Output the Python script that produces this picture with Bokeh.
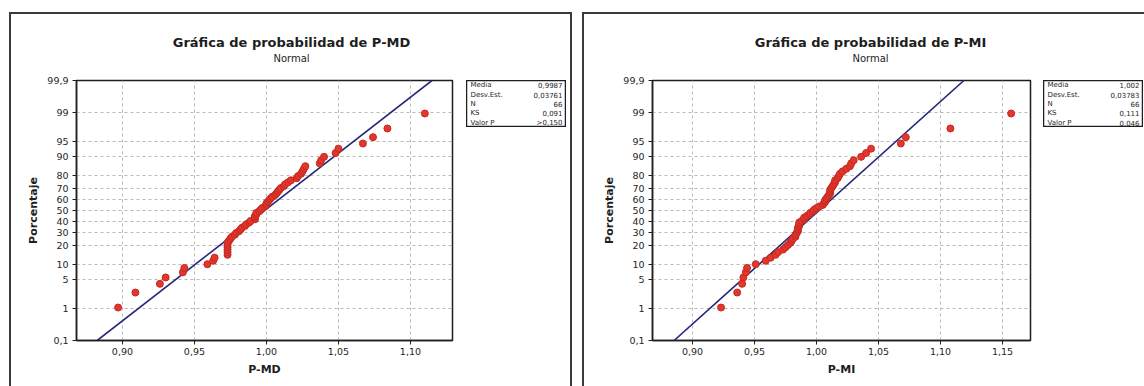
from statistics import NormalDist
from bokeh.plotting import figure
from bokeh.models import Range1d, FixedTicker, Spacer
from bokeh.layouts import row, column
from bokeh.core.properties import value
from bokeh.embed import file_html
from bokeh.resources import INLINE

# ---------------- data ----------------
md_values = [0.897, 0.909, 0.926, 0.930, 0.942, 0.943, 0.959, 0.963, 0.964, 0.973,
             0.973, 0.973, 0.973, 0.973, 0.973, 0.974, 0.975, 0.976, 0.978, 0.979,
             0.981, 0.982, 0.983, 0.985, 0.986, 0.988, 0.989, 0.992, 0.992, 0.992,
             0.993, 0.993, 0.995, 0.996, 0.997, 0.999, 1.000, 1.000, 1.001, 1.002,
             1.003, 1.004, 1.006, 1.007, 1.008, 1.009, 1.010, 1.012, 1.013, 1.015,
             1.017, 1.021, 1.022, 1.024, 1.025, 1.026, 1.027, 1.037, 1.038, 1.040,
             1.048, 1.050, 1.067, 1.074, 1.084, 1.110]
mi_values = [0.923, 0.936, 0.940, 0.941, 0.943, 0.944, 0.951, 0.959, 0.963, 0.967,
             0.969, 0.973, 0.975, 0.977, 0.979, 0.980, 0.981, 0.983, 0.983, 0.984,
             0.985, 0.985, 0.985, 0.986, 0.986, 0.986, 0.988, 0.990, 0.990, 0.992,
             0.994, 0.995, 0.997, 0.998, 1.000, 1.002, 1.005, 1.006, 1.007, 1.007,
             1.008, 1.009, 1.010, 1.011, 1.011, 1.011, 1.012, 1.013, 1.014, 1.015,
             1.015, 1.017, 1.018, 1.019, 1.021, 1.024, 1.027, 1.028, 1.030, 1.036,
             1.040, 1.044, 1.068, 1.072, 1.108, 1.157]
md_mean, md_sd = 0.9987, 0.03761
mi_mean, mi_sd = 1.002, 0.03783
md_title = "Gráfica de probabilidad de P-MD"
mi_title = "Gráfica de probabilidad de P-MI"
subtitle = "Normal"
stat_names = ["Media", "Desv.Est.", "N", "KS", "Valor P"]
md_stat_values = ["0,9987", "0,03761", "66", "0,091", ">0,150"]
mi_stat_values = ["1,002", "0,03783", "66", "0,111", "0,046"]
pct_ticks = [0.1, 1, 5, 10, 20, 30, 40, 50, 60, 70, 80, 90, 95, 99, 99.9]
pct_labels = ["0,1", "1", "5", "10", "20", "30", "40", "50", "60", "70", "80",
              "90", "95", "99", "99,9"]
md_x_ticks = [0.90, 0.95, 1.00, 1.05, 1.10]
md_x_labels = ["0,90", "0,95", "1,00", "1,05", "1,10"]
mi_x_ticks = [0.90, 0.95, 1.00, 1.05, 1.10, 1.15]
mi_x_labels = ["0,90", "0,95", "1,00", "1,05", "1,10", "1,15"]

# ---------------- helpers ----------------
ND = NormalDist()
FONT = "DejaVu Sans"
INK = "#1e1e1e"
EDGE = "#3a3a3a"
HEAD_H = 52            # title strip height (canvas y 14..66)
MAIN_H = 320           # plot figure height (canvas y 66..386)
FRAME_TOP = 14         # frame top inside plot figure (canvas 80)
FRAME_BOTTOM = 274     # frame bottom inside plot figure (canvas 340)


def zval(pct):
    return round(ND.inv_cdf(pct / 100.0), 6)


y_ticks = [zval(p) for p in pct_ticks]
ZLO, ZHI = y_ticks[0], y_ticks[-1]


def bar(w, h):
    return Spacer(width=w, height=h, styles={"background-color": EDGE})


def header(width, title, cx):
    h = figure(width=width, height=HEAD_H, x_range=Range1d(0, width),
               y_range=Range1d(0, HEAD_H), output_backend="svg",
               toolbar_location=None, min_border=0,
               x_axis_location=None, y_axis_location=None)
    h.grid.visible = False
    h.outline_line_color = None
    h.background_fill_color = "white"
    h.border_fill_color = "white"
    h.text(x=[cx], y=[24], text=[title], text_font=value(FONT),
           text_font_size=value("13px"), text_font_style="bold", text_color=INK,
           text_align="center", text_baseline="middle")
    h.text(x=[cx], y=[8], text=[subtitle], text_font=value(FONT),
           text_font_size=value("10px"), text_color=INK,
           text_align="center", text_baseline="middle")
    return h


def main_plot(values, mean, sd, xlabel, xr, xticks, xlabels, width, fl, fr):
    p = figure(width=width, height=MAIN_H, x_range=Range1d(*xr),
               y_range=Range1d(ZLO, ZHI), output_backend="svg",
               toolbar_location=None, min_border_left=fl,
               min_border_right=width - fr, min_border_top=FRAME_TOP,
               min_border_bottom=MAIN_H - FRAME_BOTTOM)
    p.background_fill_color = "white"
    p.border_fill_color = "white"
    p.outline_line_color = INK
    p.outline_line_width = 1.5

    for ax in (p.xaxis[0], p.yaxis[0]):
        ax.axis_line_color = INK
        ax.axis_line_width = 1.5
        ax.major_tick_line_color = INK
        ax.major_tick_out = 4
        ax.major_tick_in = 0
        ax.minor_tick_line_color = None
        ax.major_label_text_font = FONT
        ax.major_label_text_color = INK
        ax.major_label_text_font_size = "9.5px"
        ax.axis_label_text_font = FONT
        ax.axis_label_text_font_style = "bold"
        ax.axis_label_text_color = INK
        ax.axis_label_text_font_size = "11px"

    p.xaxis.ticker = FixedTicker(ticks=xticks)
    p.xaxis.major_label_overrides = dict(zip(xticks, xlabels))
    p.xaxis.major_label_standoff = 3
    p.xaxis.axis_label = xlabel
    p.xaxis.axis_label_standoff = 5
    p.yaxis.ticker = FixedTicker(ticks=y_ticks)
    p.yaxis.major_label_overrides = dict(zip(y_ticks, pct_labels))
    p.yaxis.major_label_standoff = 4
    p.yaxis.axis_label = "Porcentaje"
    p.yaxis.axis_label_standoff = 4

    for g in (p.xgrid[0], p.ygrid[0]):
        g.grid_line_color = "#b8b8b8"
        g.grid_line_dash = "3 3"
        g.grid_line_width = 1

    n = len(values)
    xs = sorted(values)
    ys = [ND.inv_cdf((i + 1 - 0.3) / (n + 0.4)) for i in range(n)]

    p.line([mean + sd * ZLO, mean + sd * ZHI], [ZLO, ZHI],
           line_color="#26287a", line_width=1.6)
    p.scatter(xs, ys, size=7, fill_color="#e4362b", line_color="#c42a22",
              line_width=1)
    return p


def stats_box(names, vals):
    s = figure(width=100, height=47, x_range=Range1d(0, 100), y_range=Range1d(0, 5),
               output_backend="svg", toolbar_location=None, min_border=0,
               x_axis_location=None, y_axis_location=None)
    s.grid.visible = False
    s.outline_line_color = INK
    s.outline_line_width = 1.5
    s.background_fill_color = "white"
    s.border_fill_color = "white"
    rows = [4.5 - i for i in range(len(names))]
    s.text(x=[4] * len(names), y=rows, text=names, text_font=value(FONT),
           text_font_size=value("7px"), text_color=INK, text_align="left",
           text_baseline="middle")
    s.text(x=[96] * len(vals), y=rows, text=vals, text_font=value(FONT),
           text_font_size=value("7px"), text_color=INK, text_align="right",
           text_baseline="middle")
    return s


left_main = main_plot(md_values, md_mean, md_sd, "P-MD", (0.8681, 1.1292),
                      md_x_ticks, md_x_labels, 455, 65, 441)
right_main = main_plot(mi_values, mi_mean, mi_sd, "P-MI", (0.8677, 1.1726),
                       mi_x_ticks, mi_x_labels, 459, 68, 446)
left_stats = stats_box(stat_names, md_stat_values)
right_stats = stats_box(stat_names, mi_stat_values)

left_content = column(
    header(559, md_title, 280),
    row(left_main, column(Spacer(height=FRAME_TOP), left_stats), Spacer(width=4)))
right_content = column(
    header(560, mi_title, 286),
    row(right_main, column(Spacer(height=FRAME_TOP), right_stats), Spacer(width=1)))

INNER_H = HEAD_H + MAIN_H
left_panel = column(Spacer(height=12), bar(563, 2),
                    row(bar(2, INNER_H), left_content, bar(2, INNER_H)))
right_panel = column(Spacer(height=12), bar(562, 2),
                     row(bar(2, INNER_H), right_content))

layout = row(Spacer(width=9), left_panel, Spacer(width=10), right_panel)
open("out.html", "w").write(file_html(layout, INLINE))
